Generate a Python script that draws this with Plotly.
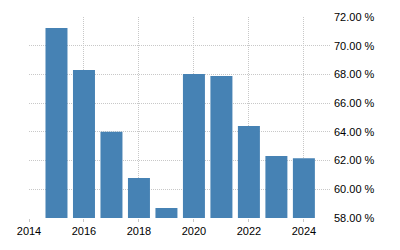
import plotly.graph_objects as go

years = [2015, 2016, 2017, 2018, 2019, 2020, 2021, 2022, 2023, 2024]
values = [71.23, 68.31, 64.0, 60.78, 58.69, 68.03, 67.89, 64.40, 62.31, 62.17]
x_ticks = [2014, 2016, 2018, 2020, 2022, 2024]
y_ticks = [58, 60, 62, 64, 66, 68, 70, 72]

fig = go.Figure(go.Bar(
    x=years, y=values, base=0, width=0.8,
    marker=dict(color="#4682B4", line=dict(width=0)),
))

fig.update_layout(
    width=400, height=250,
    margin=dict(l=29, r=70, t=17, b=32),
    paper_bgcolor="white", plot_bgcolor="white",
    showlegend=False,
    font=dict(family="Liberation Sans, Arial, sans-serif", size=11, color="#000000"),
)
fig.update_xaxes(
    range=[2014, 2024.95], tickvals=x_ticks, ticktext=[str(t) for t in x_ticks],
    showgrid=True, gridcolor="#c8c8c8", griddash="1px,1px", gridwidth=1,
    ticks="outside", ticklen=3, tickcolor="#c8c8c8", showline=False, zeroline=False,
)
fig.update_yaxes(
    range=[58, 72], tickvals=y_ticks, ticktext=[f"{v:.2f} %" for v in y_ticks],
    side="right", showgrid=True, gridcolor="#c8c8c8", griddash="1px,1px", gridwidth=1,
    ticks="", showline=False, zeroline=False, ticklabelstandoff=3,
)

fig.write_html("out.html")
